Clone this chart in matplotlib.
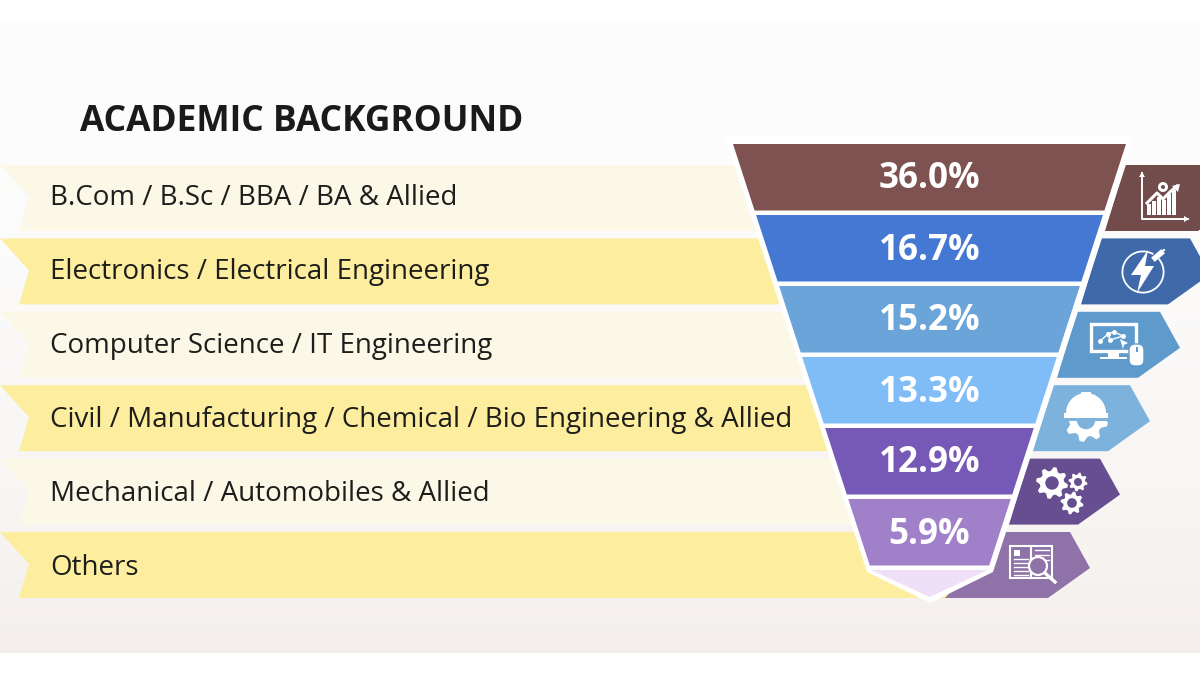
import numpy as np
import matplotlib
matplotlib.use('Agg')
import matplotlib.pyplot as plt
from matplotlib.patches import Polygon, Circle, Rectangle, Wedge, FancyBboxPatch

plt.rcParams['font.family'] = ['Open Sans', 'DejaVu Sans']

# data
title = 'ACADEMIC BACKGROUND'
categories = ['B.Com / B.Sc / BBA / BA & Allied',
              'Electronics / Electrical Engineering',
              'Computer Science / IT Engineering',
              'Civil / Manufacturing / Chemical / Bio Engineering & Allied',
              'Mechanical / Automobiles & Allied',
              'Others']
shares = [36.0, 16.7, 15.2, 13.3, 12.9, 5.9]

# colours
band_colors = ['#7d5250', '#4478d3', '#6aa4d9', '#80bcf6', '#7659b6', '#a080c9']
tip_color = '#efdff7'
tag_colors = ['#724c4b', '#3f69a9', '#5f9acc', '#7db2dc', '#664e90', '#8f72a8']
ribbon_colors = ['#fbf8e7', '#fcee9e']

# layout in pixels
ribbon_top = 165
ribbon_step = 73.4
ribbon_h = 66
band_top = 144
band_step = 71
band_h = 66.5
funnel_cx = 929.5
funnel_half = 196.5
funnel_slope = 0.3246

fig = plt.figure(figsize=(12, 6.75), dpi=100)
ax = fig.add_axes([0, 0, 1, 1])
ax.axis('off')

# background
grad = np.linspace(0, 1, 256).reshape(-1, 1, 1)
c1 = np.array([253, 253, 253]) / 255
c2 = np.array([244, 239, 236]) / 255
ax.imshow(c1 + (c2 - c1) * grad ** 2, extent=[0, 1200, 653, 22], aspect='auto', zorder=0)
ax.set_xlim(0, 1200)
ax.set_ylim(675, 0)


def half_width(y):
    return funnel_half - funnel_slope * (y - band_top)


def gear(cx, cy, r, color, hole, teeth=8, z=5):
    n = teeth * 4
    ang = np.arange(n) * 2 * np.pi / n + np.pi / n
    rad = np.where(np.arange(n) % 4 < 2, r, r * 0.76)
    pts = np.column_stack([cx + rad * np.cos(ang), cy + rad * np.sin(ang)])
    ax.add_patch(Polygon(pts, closed=True, fc=color, ec='none', zorder=z))
    ax.add_patch(Circle((cx, cy), r * 0.42, fc=hole, ec='none', zorder=z + 0.1))


# ribbons and tags
for i, name in enumerate(categories):
    top = ribbon_top + i * ribbon_step
    bot = top + ribbon_h
    pts = [(0, top), (900, top), (960, bot), (19, bot), (29, top + 32)]
    ax.add_patch(Polygon(pts, closed=True, fc=ribbon_colors[i % 2], ec='none', zorder=1))
    ax.text(50, 205 + i * 74, name, fontsize=20, color='#1d1d1b', va='baseline', ha='left', zorder=6)

    off = (5 - i) * 30
    bl = 1105 - i * 24 if i < 5 else 945
    tag = [(1125 - i * 24, top), (1070 + off, top), (1090 + off, top + 36),
           (1048 + off, bot), (bl, bot)]
    ax.add_patch(Polygon(tag, closed=True, fc=tag_colors[i], ec='none', zorder=2))

# white outline of the funnel
ax.add_patch(Polygon([(725, 137), (1135, 137), (993, 572), (930, 603), (867, 572)],
                     closed=True, fc='white', ec='none', zorder=3))

# funnel bands
for i, val in enumerate(shares):
    top = band_top + i * band_step
    bot = top + band_h
    ht, hb = half_width(top), half_width(bot)
    pts = [(funnel_cx - ht, top), (funnel_cx + ht, top), (funnel_cx + hb, bot), (funnel_cx - hb, bot)]
    ax.add_patch(Polygon(pts, closed=True, fc=band_colors[i], ec='none', zorder=4))
    ax.text(funnel_cx, top + 35.5, f'{val:.1f}%', fontsize=25.2, fontweight='bold', color='white',
            ha='center', va='center', zorder=6)

tip_y = band_top + 6 * band_step
hw = half_width(tip_y)
ax.add_patch(Polygon([(funnel_cx - hw, tip_y), (funnel_cx + hw, tip_y), (funnel_cx, 597)],
                     closed=True, fc=tip_color, ec='none', zorder=4))

w = 'white'
# icon 1: chart
ax.plot([1142, 1142, 1188], [173, 219, 219], color=w, lw=1.4, zorder=5)
ax.add_patch(Polygon([(1139, 177), (1142, 172), (1145, 177)], fc=w, ec='none', zorder=5))
ax.add_patch(Polygon([(1184, 216), (1189, 219), (1184, 222)], fc=w, ec='none', zorder=5))
for bx, bh in zip([1147, 1152, 1157, 1162, 1167, 1172], [11, 14, 18, 15, 21, 25]):
    ax.add_patch(Rectangle((bx, 215 - bh), 3.8, bh, fc=w, ec='none', zorder=5))
ax.plot([1147, 1157, 1163, 1170, 1177], [203, 193, 199, 192, 186], color=w, lw=2.2, zorder=5)
ax.add_patch(Polygon([(1172, 186), (1180, 184), (1178, 192)], fc=w, ec='none', zorder=5))
ax.add_patch(Circle((1163, 187), 5, fc=w, ec='none', zorder=5))
ax.add_patch(Circle((1163, 187), 2, fc=tag_colors[0], ec='none', zorder=5.1))

# icon 2: bolt in a ring
ax.add_patch(Wedge((1143, 272), 21.5, -40, 300, width=1.8, fc=w, ec='none', zorder=5))
ax.add_patch(Polygon([(1148, 250), (1131, 275), (1141, 275), (1137, 293), (1154, 266), (1145, 266)],
                     closed=True, fc=w, ec='none', zorder=5))
ax.plot([1155, 1161], [258, 253], color=w, lw=4, zorder=5)
ax.plot([1161, 1164], [253, 250], color=w, lw=1.5, zorder=5)

# icon 3: monitor and mouse
ax.add_patch(Rectangle((1091, 324), 45, 27, fc='none', ec=w, lw=2.4, zorder=5))
ax.add_patch(Rectangle((1108, 351), 11, 6, fc=w, ec='none', zorder=5))
ax.add_patch(Rectangle((1100, 357), 27, 2, fc=w, ec='none', zorder=5))
ax.plot([1100, 1108, 1114, 1123, 1110, 1108], [341, 334, 332, 336, 340, 334], color=w, lw=1,
        marker='o', ms=2.5, zorder=5)
ax.add_patch(Polygon([(1120, 339), (1128, 343), (1124, 345), (1123, 349)], fc=w, ec='none', zorder=5))
ax.add_patch(FancyBboxPatch((1130, 345), 13, 20, boxstyle='round,pad=1,rounding_size=6', fc=w,
                            ec=tag_colors[2], lw=1, zorder=5.2))
ax.add_patch(Rectangle((1135.5, 347), 2, 5, fc=tag_colors[2], ec='none', zorder=5.3))

# icon 4: helmet and gear
gear(1086, 420, 22, w, tag_colors[3], teeth=8)
ax.add_patch(Rectangle((1060, 394), 52, 26.5, fc=tag_colors[3], ec='none', zorder=5.15))
ax.add_patch(Wedge((1086, 413), 20, 180, 360, fc=w, ec='none', zorder=5.2))
ax.add_patch(Rectangle((1081, 392), 10, 8, fc=w, ec='none', zorder=5.2))
ax.add_patch(Rectangle((1064, 412.5), 44, 5, fc=w, ec='none', zorder=5.2))

# icon 5: three gears
gear(1052, 483, 16, w, tag_colors[4], teeth=8)
gear(1078, 482, 9.5, w, tag_colors[4], teeth=8)
gear(1072, 503, 11.5, w, tag_colors[4], teeth=8)

# icon 6: book and magnifier
ax.add_patch(Rectangle((1010, 546), 21, 32, fc='none', ec=w, lw=1.5, zorder=5))
ax.add_patch(Rectangle((1031, 546), 21, 32, fc='none', ec=w, lw=1.5, zorder=5))
ax.add_patch(Rectangle((1014, 550), 6, 6, fc=w, ec='none', zorder=5))
for ly in [559, 563, 567, 571, 575]:
    ax.plot([1014, 1028], [ly, ly], color=w, lw=1, zorder=5)
for ly in [550, 555, 560]:
    ax.plot([1035, 1049], [ly, ly], color=w, lw=1, zorder=5)
ax.add_patch(Circle((1038, 566), 9, fc=tag_colors[5], ec=w, lw=1.6, zorder=5.2))
ax.plot([1045, 1055], [573, 582], color=w, lw=2.4, zorder=5.2)

# title
ax.text(80, 122, title, fontsize=25.5, fontweight='bold', color='#1a1a1a', ha='left', va='center', zorder=6)

fig.savefig('out.png', dpi=100)
